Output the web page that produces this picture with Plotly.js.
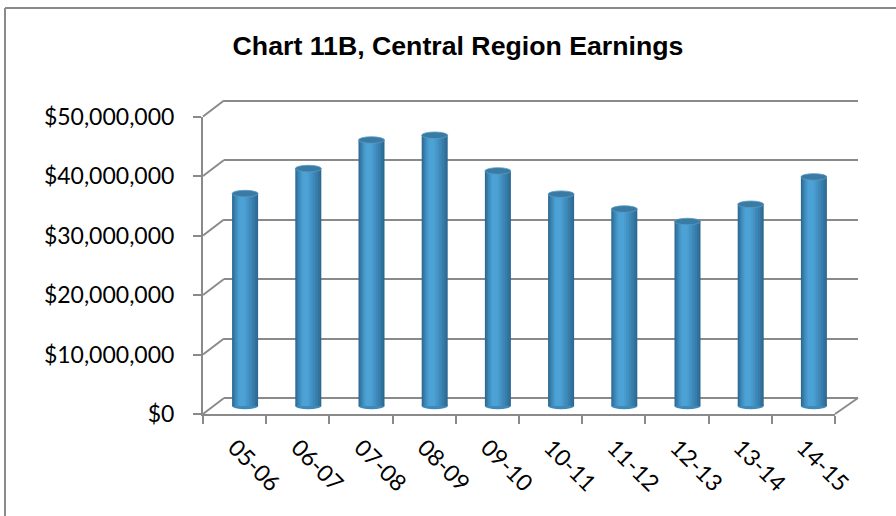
<!DOCTYPE html>
<html>
<head>
<meta charset="utf-8">
<script src="https://cdn.plot.ly/plotly-3.0.1.min.js"></script>
<style>html,body{margin:0;padding:0;background:#fff;}#chart{width:896px;height:516px;}</style>
</head>
<body>
<div id="chart"></div>
<script>
// ---- data ----
const categories = ['05-06','06-07','07-08','08-09','09-10','10-11','11-12','12-13','13-14','14-15'];
const earnings = [35.7e6, 39.9e6, 44.7e6, 45.5e6, 39.5e6, 35.6e6, 33.1e6, 31.0e6, 33.9e6, 38.5e6];
const yTickValues = [0, 10e6, 20e6, 30e6, 40e6, 50e6];
const chartTitle = 'Chart 11B, Central Region Earnings';

// ---- geometry (pixels) ----
const W = 896, H = 516;
const L = 203, R = 858, T = 95, B = 420;          // plot box
const PW = R - L, PH = B - T;
const frontRight = 835;                             // right end of front floor
const frontZero = 414;                              // y of 0 on the front plane
const pxPerUnit = 5.95 / 1e6;                       // px per dollar
const depthX = 21, depthY = 16;                     // back wall offset
const midZero = frontZero - depthY / 2;             // 0 at mid depth (bars)
const backZero = frontZero - depthY;
const catPx = (frontRight - L) / categories.length;

const px2x = p => (p - L) / PW;
const px2y = p => (B - p) / PH;
const rangeFor = zero => [-(B - zero) / pxPerUnit, (zero - T) / pxPerUnit];

const grey = '#8a8a8a';
const shades = [
  [0.00, 1.00, '#2c688f'],
  [0.03, 0.95, '#31719c'],
  [0.07, 0.87, '#377daa'],
  [0.12, 0.77, '#3d88b8'],
  [0.17, 0.67, '#4392c3'],
  [0.22, 0.58, '#489bcc'],
  [0.27, 0.50, '#4ca2d4']
];
const barW = 26 / catPx;        // bar width in category units
const capH = 3.3 / pxPerUnit;    // half height of ellipse in value units

const traces = [];
// back wall subplot (gridlines)
traces.push({type:'scatter', x:[null], y:[null], xaxis:'x', yaxis:'y', showlegend:false, hoverinfo:'skip'});
// bars as shaded cylinders
shades.forEach(s => {
  traces.push({
    type:'bar', x: categories, y: earnings, xaxis:'x2', yaxis:'y2',
    width: barW * (s[1] - s[0]), offset: -barW / 2 + barW * s[0],
    marker:{color:s[2], line:{width:0}}, showlegend:false, hoverinfo:'skip'
  });
});
// front axes subplot
traces.push({type:'scatter', mode:'markers', x: categories, y: categories.map(() => null),
  xaxis:'x3', yaxis:'y3', showlegend:false, hoverinfo:'skip'});

const shapes = [];
// chart border
shapes.push({type:'line', xref:'paper', yref:'paper', x0:px2x(5), x1:px2x(5), y0:px2y(8), y1:px2y(H+5), line:{color:grey, width:2}});
shapes.push({type:'line', xref:'paper', yref:'paper', x0:px2x(5), x1:px2x(W+5), y0:px2y(8), y1:px2y(8), line:{color:grey, width:2}});
// side wall diagonals
yTickValues.forEach(v => {
  const yf = frontZero - v * pxPerUnit;
  shapes.push({type:'line', layer:'below', xref:'paper', yref:'paper',
    x0:px2x(L), y0:px2y(yf), x1:px2x(L + depthX), y1:px2y(yf - depthY), line:{color:grey, width:2}});
});
// floor right diagonal
shapes.push({type:'line', layer:'below', xref:'paper', yref:'paper',
  x0:px2x(frontRight), y0:px2y(frontZero), x1:px2x(frontRight + depthX + 2), y1:px2y(frontZero - depthY), line:{color:grey, width:2}});
// cylinder bottoms and tops
earnings.forEach((v, i) => {
  shapes.push({type:'circle', layer:'below', xref:'x2', yref:'y2',
    x0:i - barW / 2, x1:i + barW / 2, y0:-capH, y1:capH, fillcolor:'#3d89b9', line:{width:0}});
  shapes.push({type:'circle', layer:'above', xref:'x2', yref:'y2',
    x0:i - barW / 2, x1:i + barW / 2, y0:v - capH, y1:v + capH, fillcolor:'#397ba4', line:{color:'#5a9ac3', width:0.8}});
});

const hidden = {showgrid:false, zeroline:false, showline:false, showticklabels:false, ticks:'', fixedrange:true};
const tickFont = {family:'Lato, "Open Sans", sans-serif', size:23, color:'#000'};

const layout = {
  width: W, height: H,
  margin: {l: L, r: W - R, t: T, b: H - B, pad: 0},
  paper_bgcolor: '#fff', plot_bgcolor: 'rgba(0,0,0,0)',
  showlegend: false, barmode: 'overlay',
  title: {text: '<b>' + chartTitle + '</b>', font: {family:'"Liberation Sans", Arial, sans-serif', size:26.7, color:'#000'},
    x: 458 / W, xanchor:'center', xref:'container', y: 1 - 46 / H, yanchor:'middle', yref:'container'},
  // back wall
  xaxis: Object.assign({}, hidden, {domain:[px2x(L + depthX), 1], range:[0, 1], anchor:'y'}),
  yaxis: Object.assign({}, hidden, {domain:[0, 1], range: rangeFor(backZero), anchor:'x',
    showgrid:true, gridcolor:grey, gridwidth:2, tickmode:'array', tickvals: yTickValues}),
  // bars at mid depth
  xaxis2: Object.assign({}, hidden, {domain:[0, px2x(frontRight)], anchor:'y2', type:'category',
    range:[-0.5 - (depthX / 2) / catPx, categories.length - 0.5 - (depthX / 2) / catPx]}),
  yaxis2: Object.assign({}, hidden, {domain:[0, 1], anchor:'x2', range: rangeFor(midZero)}),
  // front axes
  xaxis3: {domain:[0, px2x(frontRight)], anchor:'y3', type:'category', range:[-0.5, categories.length - 0.5],
    showgrid:false, zeroline:false, showline:true, linecolor:grey, linewidth:2,
    ticks:'outside', tickson:'boundaries', ticklen:8, tickwidth:2, tickcolor:grey,
    tickangle:45, tickfont: tickFont, ticklabelstandoff: 9, fixedrange:true},
  yaxis3: {domain:[px2y(frontZero), px2y(frontZero - 50e6 * pxPerUnit)], anchor:'x3', range:[0, 50e6],
    tickmode:'array', tickvals: yTickValues, tickformat:'$,.0f',
    showgrid:false, zeroline:false, showline:true, linecolor:grey, linewidth:2,
    ticks:'outside', ticklen:8, tickwidth:2, tickcolor:grey, tickfont: tickFont, ticklabelstandoff: 14, fixedrange:true},
  shapes: shapes
};

Plotly.newPlot('chart', traces, layout, {displayModeBar:false, staticPlot:true});
</script>
</body>
</html>
